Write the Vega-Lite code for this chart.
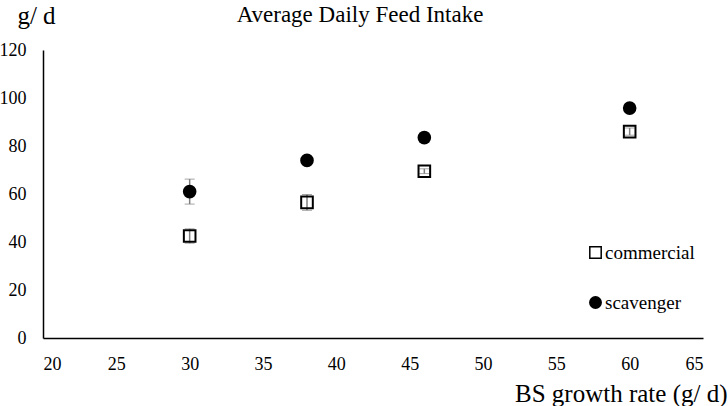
{
  "$schema": "https://vega.github.io/schema/vega-lite/v6.json",
  "autosize": {"type": "none"},
  "width": 660,
  "height": 288,
  "padding": {"left": 43, "top": 50, "right": 25, "bottom": 68},
  "background": "white",
  "config": {
    "view": {"stroke": null},
    "font": "Liberation Serif",
    "style": {"guide-label": {"font": "Liberation Serif", "fill": "#000000"}, "guide-title": {"font": "Liberation Serif", "fill": "#000000"}},
    "axis": {"grid": false, "ticks": false, "domainColor": "#000000", "domainWidth": 1.5, "labelColor": "#000000", "titleFontWeight": "normal", "titleColor": "#000000"}
  },
  "title": {"text": "Average Daily Feed Intake", "frame": "group", "anchor": "middle", "dx": -13, "offset": -24, "fontSize": 23, "font": "Liberation Serif", "fontWeight": "normal", "color": "#000000"},
  "data": {
    "values": [
      {"group": "commercial", "rate": 30, "intake": 42.5, "err": 3},
      {"group": "commercial", "rate": 38, "intake": 56.5, "err": 3.3},
      {"group": "commercial", "rate": 46, "intake": 69.5, "err": 1},
      {"group": "commercial", "rate": 60, "intake": 86, "err": 1.5},
      {"group": "scavenger", "rate": 30, "intake": 61, "err": 5.2},
      {"group": "scavenger", "rate": 38, "intake": 74, "err": 1},
      {"group": "scavenger", "rate": 46, "intake": 83.5, "err": 2},
      {"group": "scavenger", "rate": 60, "intake": 95.8, "err": 1.5}
    ]
  },
  "encoding": {
    "x": {"field": "rate", "type": "quantitative", "scale": {"domain": [20, 65], "nice": false, "zero": false}, "axis": {"values": [20, 25, 30, 35, 40, 45, 50, 55, 60, 65], "labelFont": "Liberation Serif", "labelFontSize": 18, "labelPadding": 17, "title": "BS growth rate (g/ d)", "titleFont": "Liberation Serif", "titleFontSize": 25, "titleX": 684, "titleY": 55, "titleAlign": "right", "titleBaseline": "middle", "titleAnchor": null}},
    "y": {"field": "intake", "type": "quantitative", "scale": {"domain": [0, 120], "nice": false}, "axis": {"values": [0, 20, 40, 60, 80, 100, 120], "labelFont": "Liberation Serif", "labelFontSize": 18, "labelPadding": 17, "title": "g/ d", "titleFont": "Liberation Serif", "titleFontSize": 25, "titleAngle": 0, "titleX": -7, "titleY": -35, "titleAlign": "center", "titleBaseline": "middle"}}
  },
  "layer": [
    {
      "mark": {"type": "errorbar", "ticks": {"size": 10, "color": "#7f7f7f", "strokeWidth": 1.5}, "rule": {"color": "#7f7f7f", "strokeWidth": 1.5}},
      "encoding": {
        "yError": {"field": "err"}
      }
    },
    {
      "mark": {"type": "point", "filled": false, "stroke": "#000000", "strokeWidth": 2, "size": 135, "opacity": 1},
      "encoding": {
        "shape": {"field": "group", "type": "nominal", "scale": {"domain": ["commercial", "scavenger"], "range": ["square", "circle"]}, "legend": {"title": null, "orient": "none", "legendX": 543, "legendY": 193, "labelFont": "Liberation Serif", "labelFontSize": 19, "labelColor": "#000000", "rowPadding": 30, "symbolSize": 130, "symbolStrokeWidth": 1.5, "labelOffset": 0}},
        "fill": {"field": "group", "type": "nominal", "scale": {"domain": ["commercial", "scavenger"], "range": ["transparent", "#000000"]}}
      }
    }
  ]
}
